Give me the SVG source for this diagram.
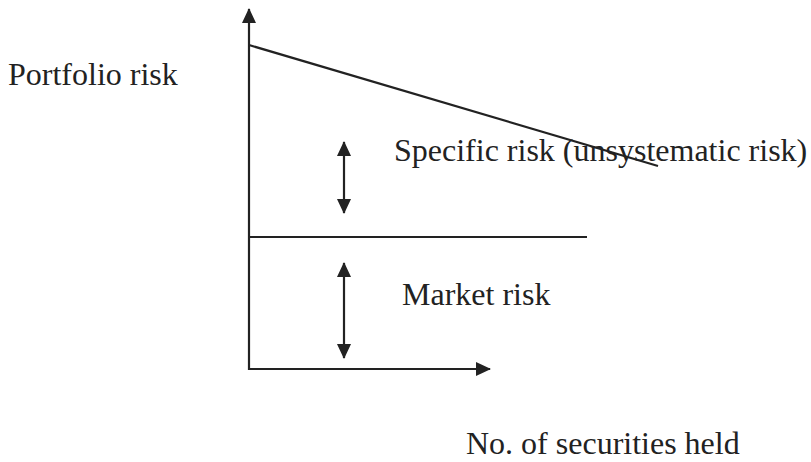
<svg xmlns="http://www.w3.org/2000/svg" width="811" height="462" viewBox="0 0 811 462">
<style>
.ln{stroke:#222;stroke-width:2.2;fill:none}
.t{font-family:"Liberation Serif","Times New Roman",serif;font-size:32px;fill:#222}
</style>
<defs>
<marker id="ah" markerUnits="userSpaceOnUse" markerWidth="15" markerHeight="14" refX="14" refY="7" orient="auto-start-reverse" viewBox="0 0 15 14">
<path d="M0,0 L15,7 L0,14 z" fill="#222"/>
</marker>
</defs>
<rect width="811" height="462" fill="#fff"/>
<g id="connectors">
<line id="y-axis" class="ln" x1="249" y1="370" x2="249" y2="9" marker-end="url(#ah)"/>
<line id="x-axis" class="ln" x1="248" y1="369" x2="490" y2="369" marker-end="url(#ah)"/>
<line id="total-risk-line" class="ln" x1="249" y1="45" x2="658" y2="166"/>
<line id="market-line" class="ln" x1="249" y1="237" x2="587" y2="237"/>
<line id="specific-arrow" class="ln" x1="344" y1="142" x2="344" y2="213" marker-start="url(#ah)" marker-end="url(#ah)"/>
<line id="market-arrow" class="ln" x1="344" y1="263" x2="344" y2="358" marker-start="url(#ah)" marker-end="url(#ah)"/>
</g>
<g id="label-portfolio"><text class="t" x="8" y="85">Portfolio risk</text></g>
<g id="label-specific"><text class="t" x="394" y="161">Specific risk (unsystematic risk)</text></g>
<g id="label-market"><text class="t" x="402" y="305">Market risk</text></g>
<g id="label-securities"><text class="t" x="466" y="454">No. of securities held</text></g>
</svg>
